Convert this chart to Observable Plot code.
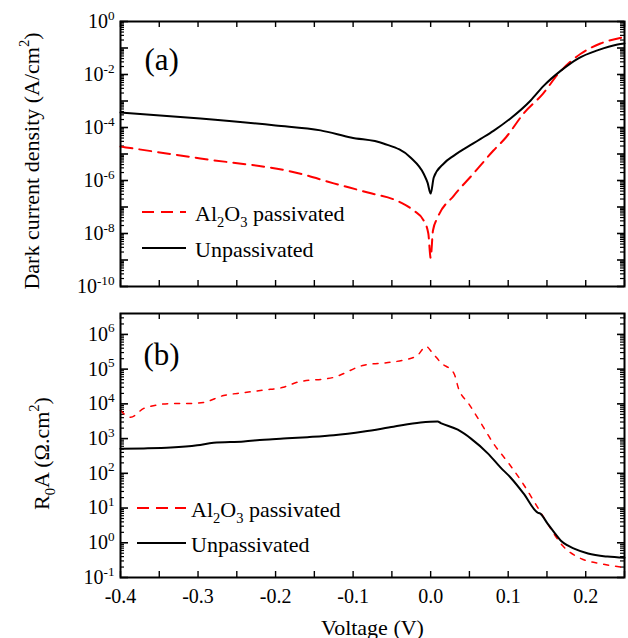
<!DOCTYPE html>
<html><head><meta charset="utf-8">
<script src="https://cdn.jsdelivr.net/npm/d3@7"></script>
<script src="https://cdn.jsdelivr.net/npm/@observablehq/plot@0.6"></script>
<style>
body{margin:0;background:#fff;}
#chart{position:relative;width:628px;height:638px;font-family:"Liberation Serif","Times New Roman",serif;}
#chart svg{position:absolute;left:0;overflow:visible;}
</style></head><body><div id="chart"></div>
<script>
// ---------- data ----------
const xTickValues = [-0.4, -0.3, -0.2, -0.1, 0.0, 0.1, 0.2];
const jTickExponents = [0, -2, -4, -6, -8, -10];
const rTickExponents = [6, 5, 4, 3, 2, 1, 0, -1];

// (a) dark current density, unpassivated
const jUnpassV = [-0.4, -0.297, -0.2, -0.142, -0.103, -0.061, -0.026, -0.009, -0.004, 0.0, 0.004, 0.017, 0.030, 0.055, 0.065, 0.081, 0.103, 0.129, 0.146, 0.168, 0.190, 0.215, 0.241, 0.25];
const jUnpassJ = [3.7e-4, 2.2e-4, 1.2e-4, 7.8e-5, 4.2e-5, 2.5e-5, 7.4e-6, 1.8e-6, 8.3e-7, 3.2e-7, 1.3e-6, 4.4e-6, 8.7e-6, 2.5e-5, 3.8e-5, 7.5e-5, 2.2e-4, 1.05e-3, 3.8e-3, 1.4e-2, 4.0e-2, 8.1e-2, 0.135, 0.148];
// (a) dark current density, Al2O3 passivated
const jPassV = [-0.4, -0.297, -0.168, -0.125, -0.081, -0.039, -0.022, -0.009, -0.003, 0.0, 0.003, 0.009, 0.030, 0.055, 0.081, 0.097, 0.120, 0.145, 0.165, 0.194, 0.219, 0.25];
const jPassJ = [1.9e-5, 6.8e-6, 1.8e-6, 7.8e-7, 3.5e-7, 1.5e-7, 7.4e-8, 3.1e-8, 1.0e-8, 1.2e-9, 1.3e-8, 4.0e-8, 2.7e-7, 1.8e-6, 1.35e-5, 4.2e-5, 3.4e-4, 1.9e-3, 1.1e-2, 6.2e-2, 0.148, 0.26];

// (b) R0A, unpassivated
const rUnpassV = [-0.4, -0.370, -0.335, -0.301, -0.280, -0.241, -0.215, -0.190, -0.159, -0.125, -0.086, -0.048, -0.013, 0.009, 0.013, 0.035, 0.052, 0.074, 0.090, 0.103, 0.120, 0.138, 0.141, 0.151, 0.160, 0.168, 0.176, 0.185, 0.203, 0.228, 0.25];
const rUnpassR = [510, 520, 550, 640, 760, 830, 930, 1000, 1100, 1250, 1600, 2200, 2900, 3100, 2800, 1800, 1000, 370, 148, 76, 26, 7.4, 7.0, 3.5, 1.9, 1.15, 0.85, 0.68, 0.49, 0.40, 0.37];
// (b) R0A, Al2O3 passivated
const rPassV = [-0.4, -0.387, -0.370, -0.361, -0.335, -0.314, -0.293, -0.267, -0.241, -0.215, -0.190, -0.172, -0.125, -0.086, -0.055, -0.036, -0.017, -0.006, 0.002, 0.013, 0.030, 0.036, 0.049, 0.065, 0.081, 0.101, 0.119, 0.135, 0.151, 0.170, 0.194, 0.219, 0.25];
const rPassR = [6.5e3, 4.1e3, 7.4e3, 8.5e3, 1.02e4, 1.02e4, 1.1e4, 1.74e4, 2.1e4, 2.5e4, 3.0e4, 4.2e4, 5.8e4, 1.3e5, 1.55e5, 1.8e5, 2.5e5, 4.5e5, 3.0e5, 1.55e5, 7.6e4, 2.75e4, 1.02e4, 2.75e3, 720, 190, 51, 13.5, 3.5, 0.83, 0.35, 0.25, 0.195];

// ---------- helpers ----------
const FONT = '"Liberation Serif","Times New Roman",serif';
const W = 628, ML = 120, MR = 4, innerW = W - ML - MR;
const zip = (xs, ys) => xs.map((x, i) => ({v: x, y: ys[i]}));
const xMinorTicks = d3.range(-8, 6).map(i => +(i * 0.05).toFixed(2));
const decades = (lo, hi) => d3.range(lo, hi + 1).map(k => Math.pow(10, k));
const minors = (lo, hi) => d3.range(lo, hi).flatMap(k => d3.range(2, 10).map(m => m * Math.pow(10, k)));

function tickMarks(yMajor, yMinor, innerH) {
  return [
    Plot.tickX(xMinorTicks, {x: d => d, insetTop: innerH - 6, stroke: "black", strokeWidth: 1.4}),
    Plot.tickX(xMinorTicks, {x: d => d, insetBottom: innerH - 6, stroke: "black", strokeWidth: 1.4}),
    Plot.tickY(yMajor, {y: d => d, insetRight: innerW - 8, stroke: "black", strokeWidth: 1.6}),
    Plot.tickY(yMinor, {y: d => d, insetRight: innerW - 4, stroke: "black", strokeWidth: 1.2}),
    Plot.tickY(yMajor, {y: d => d, insetLeft: innerW - 7, stroke: "black", strokeWidth: 1.6}),
    Plot.tickY(yMinor, {y: d => d, insetLeft: innerW - 4, stroke: "black", strokeWidth: 1.2})
  ];
}
const expFmt = d => `10^{${Math.round(Math.log10(d))}}`;

// ---------- panel (a) ----------
const topH = 300, topMT = 21, topMB = 14;
const plotA = Plot.plot({
  width: W, height: topH, marginLeft: ML, marginRight: MR, marginTop: topMT, marginBottom: topMB,
  style: {fontFamily: FONT, fontSize: "20px", background: "transparent", color: "black"},
  x: {domain: [-0.4, 0.25], axis: null},
  y: {type: "log", domain: [1e-10, 1]},
  marks: [
    ...tickMarks(decades(-10, 0), minors(-10, 0), topH - topMT - topMB),
    Plot.axisY(jTickExponents.map(e => Math.pow(10, e)), {anchor: "left", tickSize: 0, tickPadding: 6, tickFormat: expFmt, fontSize: 20, label: null}),
    Plot.line(zip(jPassV, jPassJ), {x: "v", y: "y", stroke: "#ff0000", strokeWidth: 2, strokeDasharray: "12,7", curve: "monotone-x"}),
    Plot.line(zip(jUnpassV, jUnpassJ), {x: "v", y: "y", stroke: "black", strokeWidth: 2, curve: "monotone-x"}),
    Plot.frame({stroke: "black", strokeWidth: 2}),
    Plot.text(["(a)"], {frameAnchor: "top-left", text: d => d, dx: 24, dy: 39, fontSize: 31, textAnchor: "start", lineAnchor: "middle"}),
    Plot.text(["Dark current density (A/cm^{2})"], {frameAnchor: "left", text: d => d, rotate: -90, dx: -89, dy: 7, fontSize: 22, textAnchor: "middle", lineAnchor: "middle"})
  ]
});
plotA.style.top = "0px";

// ---------- panel (b) ----------
const botH = 338, botMT = 13, botMB = 61;
const plotB = Plot.plot({
  width: W, height: botH, marginLeft: ML, marginRight: MR, marginTop: botMT, marginBottom: botMB,
  style: {fontFamily: FONT, fontSize: "20px", background: "transparent", color: "black"},
  x: {domain: [-0.4, 0.25]},
  y: {type: "log", domain: [0.1, 4e6]},
  marks: [
    ...tickMarks(decades(-1, 6), minors(-1, 7).filter(d => d < 4e6), botH - botMT - botMB),
    Plot.axisY(rTickExponents.map(e => Math.pow(10, e)), {anchor: "left", tickSize: 0, tickPadding: 6, tickFormat: expFmt, fontSize: 20, label: null}),
    Plot.axisX(xTickValues, {anchor: "bottom", tickSize: 0, tickPadding: 11, tickFormat: d => d.toFixed(1), fontSize: 20, label: null}),
    Plot.line(zip(rPassV, rPassR), {x: "v", y: "y", stroke: "#ff0000", strokeWidth: 1.5, strokeDasharray: "5,7", curve: "monotone-x"}),
    Plot.line(zip(rUnpassV, rUnpassR), {x: "v", y: "y", stroke: "black", strokeWidth: 2, curve: "monotone-x"}),
    Plot.frame({stroke: "black", strokeWidth: 2}),
    Plot.text(["(b)"], {frameAnchor: "top-left", text: d => d, dx: 23, dy: 42, fontSize: 31, textAnchor: "start", lineAnchor: "middle"}),
    Plot.text(["R_{0}A (Ω.cm^{2})"], {frameAnchor: "left", text: d => d, rotate: -90, dx: -79, dy: 8, fontSize: 22, textAnchor: "middle", lineAnchor: "middle"}),
    Plot.text(["Voltage (V)"], {frameAnchor: "bottom", text: d => d, dy: 50, fontSize: 22, textAnchor: "middle", lineAnchor: "middle"})
  ]
});
plotB.style.top = "300px";

const chart = document.getElementById("chart");
chart.appendChild(plotA);
chart.appendChild(plotB);

// ---------- legends (overlay) ----------
const legendItems = [
  {label: "Al_{2}O_{3} passivated", stroke: "#ff0000", dash: "12,7"},
  {label: "Unpassivated", stroke: "black", dash: null}
];
const overlay = d3.select(chart).append("svg")
  .attr("width", W).attr("height", 638).style("top", "0px")
  .style("font-family", FONT).style("font-size", "22px");
function legend(x1, x2, tx, ys) {
  legendItems.forEach((it, i) => {
    overlay.append("line").attr("x1", x1).attr("x2", x2).attr("y1", ys[i]).attr("y2", ys[i])
      .attr("stroke", it.stroke).attr("stroke-width", 2).attr("stroke-dasharray", it.dash);
    overlay.append("text").attr("x", tx).attr("y", ys[i] + 8.5).attr("fill", "black").text(it.label);
  });
}
legend(142, 186, 195, [212, 248]);
legend(137, 186, 191, [508, 543]);

// ---------- rich text (sub/superscripts) ----------
function rich(el) {
  const s = el.textContent;
  if (!/[\^_]\{/.test(s)) return;
  const fs = parseFloat(getComputedStyle(el).fontSize) || 20;
  el.textContent = "";
  const parts = s.split(/([\^_]\{[^}]*\})/).filter(p => p);
  let cur = 0;
  for (const p of parts) {
    const t = document.createElementNS("http://www.w3.org/2000/svg", "tspan");
    let target = 0, txt = p, small = false;
    if (p[0] === "^") { target = -0.42 * fs; txt = p.slice(2, -1); small = true; }
    else if (p[0] === "_") { target = 0.28 * fs; txt = p.slice(2, -1); small = true; }
    t.setAttribute("dy", target - cur);
    cur = target;
    if (small) t.setAttribute("font-size", (0.66 * fs).toFixed(1));
    t.textContent = txt;
    el.appendChild(t);
  }
}
chart.querySelectorAll("text").forEach(rich);
</script></body></html>
